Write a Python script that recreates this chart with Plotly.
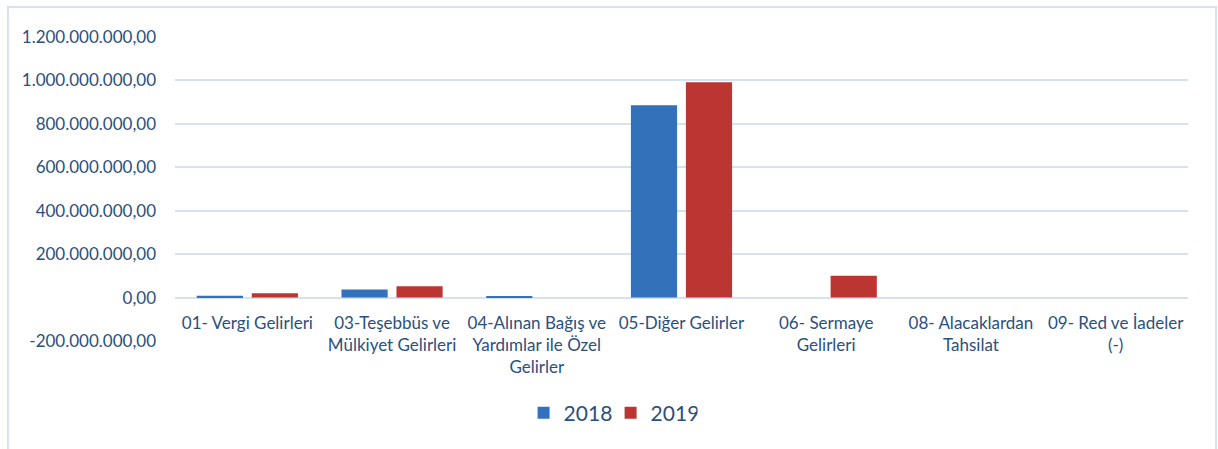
import plotly.graph_objects as go

categories = [
    "01- Vergi Gelirleri",
    "03-Teşebbüs ve<br>Mülkiyet Gelirleri",
    "04-Alınan Bağış ve<br>Yardımlar ile Özel<br>Gelirler",
    "05-Diğer Gelirler",
    "06- Sermaye<br>Gelirleri",
    "08- Alacaklardan<br>Tahsilat",
    "09- Red ve İadeler<br>(-)",
]
values_2018 = [8_000_000, 37_000_000, 5_000_000, 886_000_000, 0, 0, 0]
values_2019 = [20_000_000, 52_000_000, 0, 992_000_000, 101_000_000, 0, 0]
tick_vals = [-200_000_000, 0, 200_000_000, 400_000_000, 600_000_000,
             800_000_000, 1_000_000_000, 1_200_000_000]
tick_text = ["-200.000.000,00", "0,00", "200.000.000,00", "400.000.000,00",
             "600.000.000,00", "800.000.000,00", "1.000.000.000,00",
             "1.200.000.000,00"]

TEXT = "#2b4f7e"
GRID = "#d6e2f2"
FONT = "Lato"

fig = go.Figure()
fig.add_trace(go.Bar(x=categories, y=values_2018, name="2018",
                     marker=dict(color="#3471bb", line=dict(width=0))))
fig.add_trace(go.Bar(x=categories, y=values_2019, name="2019",
                     marker=dict(color="#bb3633", line=dict(width=0))))

ymin, ymax = -200_000_000, 1_200_000_000
zero_pos = (0 - ymin) / (ymax - ymin)

fig.update_layout(
    width=1218, height=449,
    margin=dict(l=175, r=30, t=37, b=108),
    paper_bgcolor="white", plot_bgcolor="white",
    barmode="group", bargap=0.24, bargroupgap=0.16,
    font=dict(family=FONT, size=17, color=TEXT),
    showlegend=True,
    legend=dict(orientation="h", x=0.43, xanchor="center",
                y=-0.237, yanchor="middle",
                bgcolor="rgba(0,0,0,0)",
                font=dict(size=21, color=TEXT),
                itemwidth=30, entrywidth=42, entrywidthmode="pixels",
                traceorder="normal"),
    xaxis=dict(anchor="free", position=zero_pos, showline=False,
               showgrid=False, ticks="", tickfont=dict(size=17, color=TEXT),
               ticklabelstandoff=13,
               tickangle=0, automargin=False),
    yaxis=dict(range=[ymin, ymax], tickvals=tick_vals, ticktext=tick_text,
               showgrid=True, gridcolor=GRID, gridwidth=2,
               zeroline=True, zerolinecolor=GRID, zerolinewidth=2,
               showline=False, ticks="", ticklabelstandoff=18,
               automargin=False,
               tickfont=dict(size=17, color=TEXT)),
    shapes=[dict(type="rect", xref="paper", yref="paper",
                 x0=-0.1649, x1=1.0277, y0=-0.40, y1=1.0987,
                 line=dict(color=GRID, width=2), fillcolor="rgba(0,0,0,0)",
                 layer="below")],
)

fig.write_html("out.html",
               config={"displayModeBar": False},
               post_script="document.body.style.margin='0';")
